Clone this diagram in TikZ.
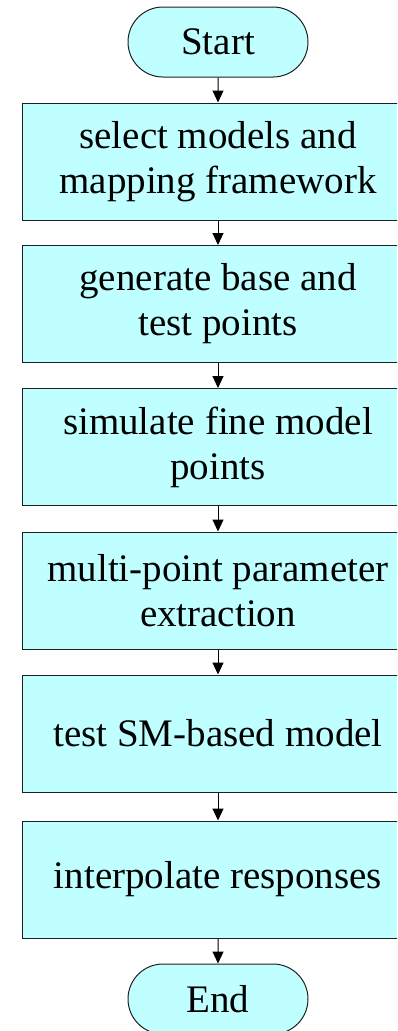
\documentclass[tikz,border=0pt]{standalone}
\usepackage{fontspec}
\setmainfont{Liberation Serif}
\usetikzlibrary{arrows.meta,shapes.misc}
\definecolor{boxfill}{HTML}{BFFFFF}
\definecolor{boxline}{HTML}{202020}
\tikzset{
  stepbox/.style={draw=boxline, line width=1pt, fill=boxfill, rectangle,
    minimum width=392pt, minimum height=117pt, inner sep=0pt, align=center,
    font=\fontsize{39}{45}\selectfont},
  terminal/.style={draw=boxline, line width=1pt, fill=boxfill, rounded rectangle,
    minimum width=180pt, minimum height=70pt, inner sep=0pt, align=center,
    font=\fontsize{39}{45}\selectfont},
  flow/.style={draw=black, line width=1pt, -{Triangle[width=11pt,length=12pt]}},
}
\begin{document}
\begin{tikzpicture}[x=1pt,y=-1pt]
  \useasboundingbox (0,0) rectangle (397,1031);
  \clip (0,0) rectangle (397,1031);
  \node[terminal] (start) at (218,42) {Start};
  \node[stepbox] (sel) at (218,161.5) {select models and\\mapping framework};
  \node[stepbox] (gen) at (218,304) {generate base and\\test points};
  \node[stepbox] (sim) at (218,447) {simulate fine model\\points};
  \node[stepbox] (ext) at (218,590.5) {multi-point parameter\\extraction};
  \node[stepbox] (tst) at (218,733.5) {test SM-based model};
  \node[stepbox] (itp) at (218,879.5) {interpolate responses};
  \node[terminal] (end) at (218,999) {End};
  \draw[flow] (start) -- (sel);
  \draw[flow] (sel) -- (gen);
  \draw[flow] (gen) -- (sim);
  \draw[flow] (sim) -- (ext);
  \draw[flow] (ext) -- (tst);
  \draw[flow] (tst) -- (itp);
  \draw[flow] (itp) -- (end);
\end{tikzpicture}
\end{document}
